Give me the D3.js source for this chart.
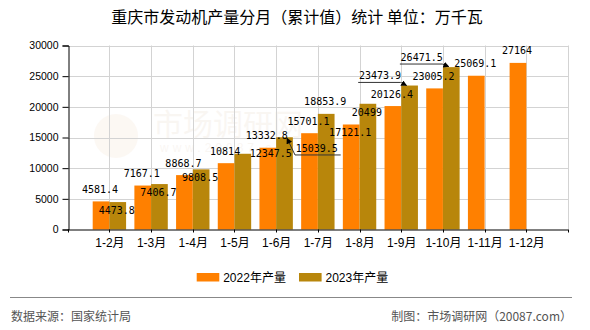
<!DOCTYPE html>
<html>
<head>
<meta charset="utf-8">
<script src="https://cdn.jsdelivr.net/npm/d3@7/dist/d3.min.js"></script>
<style>
  html, body { margin: 0; padding: 0; background: #fff; }
  svg { display: block; }
</style>
</head>
<body>
<svg id="chart" width="590" height="330"></svg>
<script>
// ---------- data ----------
const categories = ["1-2月","1-3月","1-4月","1-5月","1-6月","1-7月","1-8月","1-9月","1-10月","1-11月","1-12月"];
const seriesNames = ["2022年产量","2023年产量"];
const values2022 = [4581.4, 7167.1, 8868.7, 10814, 13332.8, 15701.1, 17121.1, 20126.4, 23005.2, 25069.1, 27164];
const values2023 = [4473.8, 7406.7, 9808.5, 12347.5, 15039.5, 18853.9, 20499, 23473.9, 26471.5, null, null];
const yTicks = [0, 5000, 10000, 15000, 20000, 25000, 30000];
const titleText = "重庆市发动机产量分月（累计值）统计 单位：万千瓦";
const sourceText = "数据来源：国家统计局";
const creditText = "制图：市场调研网（20087.com）";

// ---------- layout / style ----------
const colors = ["#FF8000", "#B8860B"];
const plot = { left: 67.7, right: 568, top: 45.5, bottom: 229.5 };
const halfBar = 16.7;
// label placement relative to bar top centre (not data)
const labelPlace = {
  "2022年产量": { 6: { dx: -1, dy: 12 } },
  "2023年产量": {
    0: { dx: -1, dy: 12 }, 1: { dx: -1, dy: 12 }, 2: { dx: -1, dy: 12 },
    3: { dx: 28, dy: 3 },
    6: { dx: -1, dy: 12 },
    4: { leader: true, dx: 32.2, dy: 14.4, ux1: 10.5, ux2: 56.2, uy: 17.7, from: "ux1", tx: 2.5, ty: 1 },
    7: { leader: true, dx: -29.6, dy: -6.5, ux1: -51.4, ux2: -9, uy: -3.1, from: "ux2", tx: -3, ty: 0 },
    8: { leader: true, dx: -29.6, dy: -5.7, ux1: -51.4, ux2: -9, uy: -3.1, from: "ux2", tx: -2.5, ty: -0.5 }
  }
};

const svg = d3.select("#chart");

const x = d3.scalePoint().domain(categories).range([plot.left, plot.right]).padding(1);
const xEdge = d3.scaleLinear().domain([0, categories.length + 1]).range([plot.left, plot.right]);
const sub = d3.scaleBand().domain(seriesNames).range([-halfBar, halfBar]).padding(0);
const y = d3.scaleLinear().domain([0, 30000]).range([plot.bottom, plot.top]);

// watermark (faint)
const wm = svg.append("g").attr("opacity", 0.05);
wm.append("circle").attr("cx", 116).attr("cy", 136).attr("r", 22).attr("fill", "#d08030");
wm.append("text").attr("x", 153).attr("y", 135).attr("font-family", "Noto Sans CJK SC")
  .attr("font-size", 30).attr("fill", "#a06020").text("市场调研网");
wm.append("text").attr("x", 160).attr("y", 152).attr("font-family", "Liberation Sans")
  .attr("font-size", 12).attr("fill", "#a06020").attr("letter-spacing", 4).text("www.20087.com");

// grid
const grid = svg.append("g");
grid.selectAll("line.h").data(yTicks.filter(d => d > 0)).join("line")
  .attr("x1", plot.left).attr("x2", plot.right)
  .attr("y1", d => Math.round(y(d)) + 0.5).attr("y2", d => Math.round(y(d)) + 0.5)
  .attr("stroke", "#d3d3d3").attr("stroke-width", 1);
grid.selectAll("line.v").data(d3.range(1, categories.length + 2)).join("line")
  .attr("x1", d => Math.round(xEdge(d)) + 0.5).attr("x2", d => Math.round(xEdge(d)) + 0.5)
  .attr("y1", plot.top).attr("y2", plot.bottom)
  .attr("stroke", "#d3d3d3").attr("stroke-width", 1);

// bars
const rows = categories.map((c, i) => ({ cat: c, i, vals: [values2022[i], values2023[i]] }));
const groups = svg.append("g").selectAll("g").data(rows).join("g")
  .attr("transform", d => `translate(${x(d.cat)},0)`);
groups.selectAll("rect")
  .data(d => seriesNames.map((s, k) => ({ s, k, v: d.vals[k], i: d.i })).filter(e => e.v != null))
  .join("rect")
  .attr("x", e => sub(e.s))
  .attr("width", sub.bandwidth())
  .attr("y", e => y(e.v))
  .attr("height", e => y(0) - y(e.v))
  .attr("fill", e => colors[e.k]);

// axes
const yAxis = svg.append("g").attr("transform", `translate(${Math.round(plot.left) + 0.5},0)`)
  .call(d3.axisLeft(y).tickValues(yTicks).tickSize(6).tickPadding(4).tickFormat(d3.format("d")));
yAxis.select(".domain").attr("stroke", "#000");
yAxis.selectAll(".tick line").attr("stroke", "#000");
yAxis.selectAll("text").attr("font-family", "Liberation Sans, Arial, sans-serif")
  .attr("font-size", 10.5).attr("fill", "#000");

const xTickAxis = svg.append("g").attr("transform", `translate(0,${plot.bottom})`)
  .call(d3.axisBottom(xEdge).tickValues(d3.range(0, categories.length + 2)).tickSize(3).tickFormat(""));
xTickAxis.select(".domain").attr("stroke", "#000").attr("d", `M${plot.left},0.5H${plot.right}`);
xTickAxis.selectAll(".tick line").attr("stroke", "#000");
xTickAxis.selectAll(".tick").attr("transform", d => `translate(${Math.round(xEdge(d)) + 0.5},0)`);

const xLab = svg.append("g").attr("transform", `translate(0,${plot.bottom})`)
  .call(d3.axisBottom(x).tickSize(0).tickPadding(9));
xLab.select(".domain").remove();
xLab.selectAll("text").attr("font-family", "Liberation Sans, Noto Sans CJK SC, sans-serif")
  .attr("font-size", 12).attr("fill", "#000");

// arrow marker
svg.append("defs").append("marker").attr("id", "arrow")
  .attr("viewBox", "0 0 10 10").attr("refX", 9).attr("refY", 5)
  .attr("markerWidth", 6).attr("markerHeight", 6).attr("orient", "auto-start-reverse")
  .append("path").attr("d", "M0,0L10,5L0,10Z").attr("fill", "#000");

// value labels
const lab = svg.append("g").attr("font-family", "DejaVu Sans Mono, monospace").attr("font-size", 10).attr("fill", "#000");
seriesNames.forEach((s, k) => {
  const vals = k === 0 ? values2022 : values2023;
  vals.forEach((v, i) => {
    if (v == null) return;
    const cx = x(categories[i]) + sub(s) + sub.bandwidth() / 2;
    const ty = y(v);
    const p = (labelPlace[s] && labelPlace[s][i]) || { dx: -1, dy: -8.5 };
    lab.append("text").attr("x", cx + p.dx).attr("y", ty + p.dy)
      .attr("text-anchor", "middle").text(String(v));
    if (p.leader) {
      lab.append("line").attr("x1", cx + p.ux1).attr("x2", cx + p.ux2)
        .attr("y1", ty + p.uy).attr("y2", ty + p.uy).attr("stroke", "#333").attr("stroke-width", 1);
      const fx = cx + p[p.from];
      lab.append("line").attr("x1", fx).attr("y1", ty + p.uy)
        .attr("x2", cx + p.tx).attr("y2", ty + p.ty)
        .attr("stroke", "#333").attr("stroke-width", 1).attr("marker-end", "url(#arrow)");
    }
  });
});

// title
svg.append("text").attr("x", 297).attr("y", 23).attr("text-anchor", "middle")
  .attr("font-family", "Noto Sans CJK SC, sans-serif").attr("font-size", 16).attr("fill", "#000")
  .text(titleText);

// legend
const leg = svg.append("g");
const legX = [196.7, 299];
seriesNames.forEach((s, k) => {
  leg.append("rect").attr("x", legX[k]).attr("y", 273).attr("width", 22.6).attr("height", 8.5).attr("fill", colors[k]);
  leg.append("text").attr("x", legX[k] + 26.5).attr("y", 281.5)
    .attr("font-family", "Liberation Sans, Noto Sans CJK SC, sans-serif").attr("font-size", 12).attr("fill", "#000")
    .text(s);
});

// footer
svg.append("line").attr("x1", 10).attr("x2", 572).attr("y1", 297.5).attr("y2", 297.5)
  .attr("stroke", "#888").attr("stroke-width", 1);
svg.append("text").attr("x", 11).attr("y", 321).attr("font-family", "Noto Sans CJK SC, sans-serif")
  .attr("font-size", 12).attr("fill", "#555").text(sourceText);
svg.append("text").attr("x", 572).attr("y", 321).attr("text-anchor", "end").attr("font-family", "Noto Sans CJK SC, sans-serif")
  .attr("font-size", 12).attr("fill", "#555").text(creditText);
</script>
</body>
</html>
